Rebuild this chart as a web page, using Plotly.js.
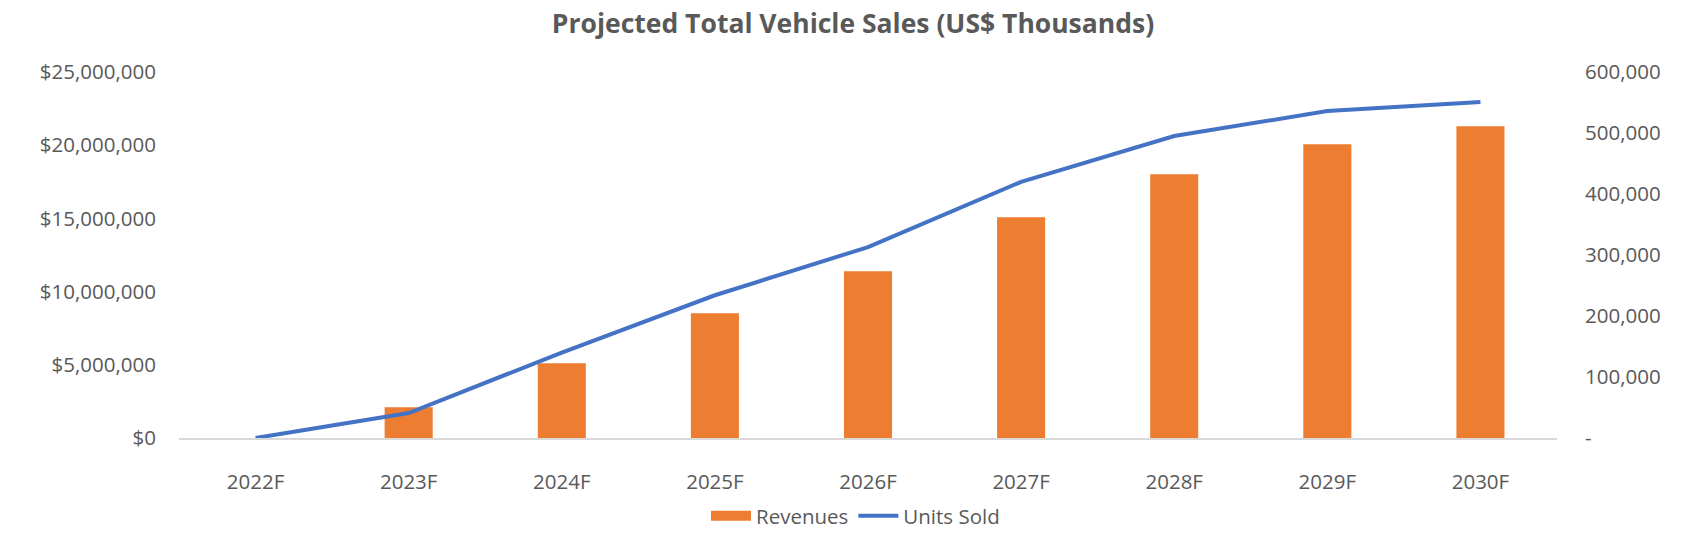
<!DOCTYPE html>
<html>
<head>
<meta charset="utf-8">
<script src="https://cdn.plot.ly/plotly-3.0.1.min.js"></script>
<style>
  html, body { margin: 0; padding: 0; background: #ffffff; }
  #chart { width: 1683px; height: 537px; }
</style>
</head>
<body>
<div id="chart"></div>
<script>
const categories = ["2022F", "2023F", "2024F", "2025F", "2026F", "2027F", "2028F", "2029F", "2030F"];
const revenues = [0, 2100000, 5100000, 8520000, 11390000, 15080000, 18020000, 20070000, 21300000];
const unitsSold = [0, 41000, 140000, 234000, 313000, 420000, 495000, 536000, 551000];
const leftTickVals = [0, 5000000, 10000000, 15000000, 20000000, 25000000];
const leftTickText = ["$0", "$5,000,000", "$10,000,000", "$15,000,000", "$20,000,000", "$25,000,000"];
const rightTickVals = [0, 100000, 200000, 300000, 400000, 500000, 600000];
const rightTickText = ["-", "100,000", "200,000", "300,000", "400,000", "500,000", "600,000"];

const FONT = "'Open Sans', 'Noto Sans', sans-serif";
const GREY = "#595959";
const FS = 20.5;

const traces = [
  {
    type: "bar",
    name: "Revenues",
    x: categories,
    y: revenues,
    yaxis: "y",
    marker: { color: "#ED7D31", line: { width: 0 } },
    showlegend: false,
    hoverinfo: "skip"
  },
  {
    // legend entry for the bars (wide swatch as in the original)
    type: "scatter",
    mode: "lines",
    name: "Revenues",
    x: categories,
    y: categories.map(() => null),
    yaxis: "y",
    line: { color: "#ED7D31", width: 14 },
    hoverinfo: "skip"
  },
  {
    type: "scatter",
    mode: "lines",
    name: "Units Sold",
    x: categories,
    y: unitsSold,
    yaxis: "y2",
    line: { color: "#4472C4", width: 4 },
    hoverinfo: "skip"
  }
];

const layout = {
  width: 1683,
  height: 537,
  paper_bgcolor: "#ffffff",
  plot_bgcolor: "#ffffff",
  margin: { l: 179, r: 126, t: 72, b: 99, autoexpand: false },
  font: { family: FONT, color: GREY, size: FS },
  title: {
    text: "<b>Projected Total Vehicle Sales (US$ Thousands)</b>",
    font: { family: FONT, size: 26.5, color: GREY },
    x: 853 / 1683,
    xanchor: "center",
    xref: "container",
    y: 1 - 24 / 537,
    yanchor: "middle",
    yref: "container"
  },
  bargap: 0.686,
  showlegend: true,
  legend: {
    orientation: "h",
    x: 706 / 1683,
    xanchor: "left",
    xref: "container",
    y: 1 - 516 / 537,
    yanchor: "middle",
    yref: "container",
    itemwidth: 40,
    font: { family: FONT, size: FS, color: GREY },
    traceorder: "normal"
  },
  xaxis: {
    type: "category",
    range: [-0.5, 8.5],
    showgrid: false,
    zeroline: false,
    showline: true,
    linecolor: "#D9D9D9",
    linewidth: 2,
    ticks: "outside",
    ticklen: 24,
    tickcolor: "rgba(0,0,0,0)",
    tickfont: { family: FONT, size: FS, color: GREY },
    automargin: false,
    fixedrange: true
  },
  yaxis: {
    range: [0, 25000000],
    tickvals: leftTickVals,
    ticktext: leftTickText,
    showgrid: false,
    zeroline: false,
    showline: false,
    ticks: "outside",
    ticklen: 18,
    tickcolor: "rgba(0,0,0,0)",
    tickfont: { family: FONT, size: FS, color: GREY },
    automargin: false,
    fixedrange: true
  },
  yaxis2: {
    range: [0, 600000],
    overlaying: "y",
    side: "right",
    tickvals: rightTickVals,
    ticktext: rightTickText,
    showgrid: false,
    zeroline: false,
    showline: false,
    ticks: "outside",
    ticklen: 23,
    tickcolor: "rgba(0,0,0,0)",
    tickfont: { family: FONT, size: FS, color: GREY },
    automargin: false,
    fixedrange: true
  }
};

Plotly.newPlot("chart", traces, layout, { displayModeBar: false, staticPlot: true });
</script>
</body>
</html>
